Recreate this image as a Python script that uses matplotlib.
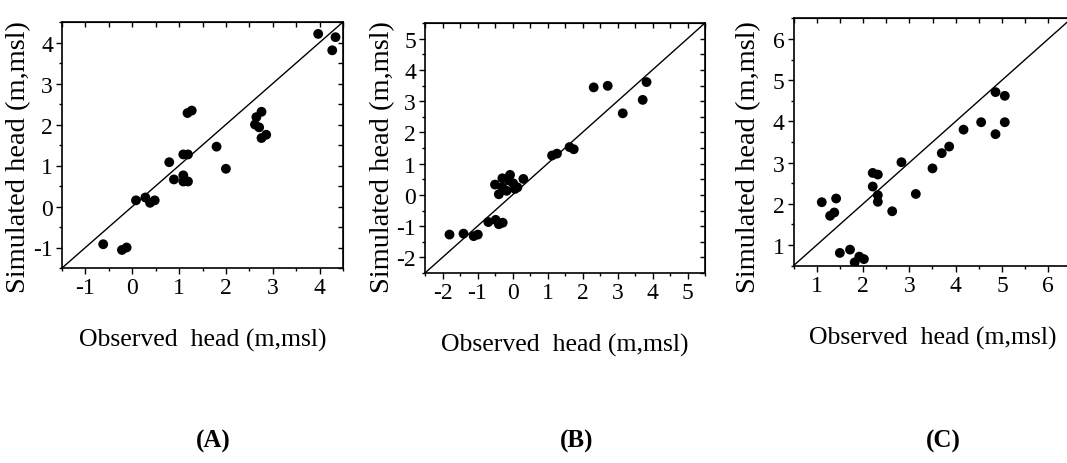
import matplotlib
matplotlib.use("Agg")
import matplotlib.pyplot as plt
from matplotlib.ticker import MultipleLocator

plt.rcParams['font.family'] = ['Liberation Serif', 'DejaVu Serif']
plt.rcParams['axes.unicode_minus'] = False

# Panel A data
obs_a = [-0.62, -0.22, -0.12, 0.08, 0.28, 0.38, 0.48, 0.79, 0.89, 1.09, 1.09, 1.19,
         1.09, 1.19, 1.18, 1.27, 1.80, 2.00, 2.62, 2.65, 2.76, 2.71, 2.76, 2.86,
         3.97, 4.34, 4.27]
sim_a = [-0.92, -1.06, -1.00, 0.15, 0.22, 0.09, 0.15, 1.08, 0.66, 0.76, 0.61, 0.61,
         1.27, 1.27, 2.28, 2.34, 1.46, 0.92, 2.00, 2.18, 2.31, 1.93, 1.67, 1.75,
         4.21, 4.13, 3.81]

# Panel B data
obs_b = [-1.80, -1.40, -1.11, -0.99, -0.69, -0.48, -0.39, -0.28, -0.50, -0.39,
         -0.29, -0.29, -0.17, -0.10, -0.07, 0.02, 0.07, 0.14, 0.31, 1.13, 1.27,
         1.63, 1.75, 2.32, 2.72, 3.15, 3.72, 3.83]
sim_b = [-1.27, -1.24, -1.32, -1.27, -0.87, -0.80, -0.94, -0.89, 0.33, 0.02,
         0.24, 0.53, 0.13, 0.46, 0.64, 0.37, 0.19, 0.24, 0.51, 1.26, 1.32,
         1.53, 1.46, 3.44, 3.49, 2.61, 3.04, 3.61]

# Panel C data
obs_c = [1.11, 1.29, 1.38, 1.42, 1.50, 1.72, 1.92, 1.82, 2.02, 2.21, 2.21, 2.32,
         2.32, 2.32, 2.63, 2.83, 3.14, 3.50, 3.70, 3.86, 4.17, 4.55, 4.86, 5.06,
         4.86, 5.06]
sim_c = [2.04, 1.71, 1.79, 2.13, 0.81, 0.89, 0.72, 0.58, 0.66, 2.75, 2.42, 2.71,
         2.21, 2.05, 1.82, 3.01, 2.24, 2.86, 3.23, 3.39, 3.80, 3.98, 4.71, 4.62,
         3.69, 3.98]

limits = [(-1.5, 4.5), (-2.5, 5.5), (0.5, 6.5)]
panel_labels = ['(A)', '(B)', '(C)']
xlabel = 'Observed  head (m,msl)'
ylabel = 'Simulated head (m,msl)'

W, H = 1067, 464
fig = plt.figure(figsize=(W / 100, H / 100), dpi=100)

# axes boxes in pixels: left, top, right, bottom
boxes = [(62, 23, 343, 269), (425, 24, 705, 274), (793.5, 19.3, 1071.5, 266.7)]
label_x = [213, 577, 943]
ylabel_right_px = [31, 395, 761]
ylabel_center_px = 157
xlabel_top_offset = 60

data = [(obs_a, sim_a), (obs_b, sim_b), (obs_c, sim_c)]

for i, ((xs, ys), (lo, hi), box) in enumerate(zip(data, limits, boxes)):
    l, t, r, b = box
    w, h = r - l, b - t
    ax = fig.add_axes([l / W, 1 - b / H, w / W, h / H])
    ax.plot([lo, hi], [lo, hi], color='black', lw=1.0, zorder=1)
    ax.scatter(xs, ys, s=50, color='black', edgecolors='none', zorder=2)
    ax.set_xlim(lo, hi)
    ax.set_ylim(lo, hi)
    ax.xaxis.set_major_locator(MultipleLocator(1))
    ax.yaxis.set_major_locator(MultipleLocator(1))
    ax.xaxis.set_minor_locator(MultipleLocator(0.5))
    ax.yaxis.set_minor_locator(MultipleLocator(0.5))
    ax.tick_params(which='both', direction='out', top=False, right=False,
                   width=1.0, labelsize=17, pad=2.5)
    ax.tick_params(which='major', length=4)
    ax.tick_params(which='minor', length=2.5)
    for sp in ax.spines.values():
        sp.set_linewidth(1.2)
    sx = ax.secondary_xaxis('top')
    sx.xaxis.set_major_locator(MultipleLocator(0.5))
    sx.tick_params(direction='in', length=3.5, width=1.0, labeltop=False)
    sy = ax.secondary_yaxis('right')
    sy.yaxis.set_major_locator(MultipleLocator(0.5))
    sy.tick_params(direction='in', length=3.5, width=1.0, labelright=False)
    ax.set_xlabel(xlabel, fontsize=18.5)
    ax.xaxis.set_label_coords(0.5, -xlabel_top_offset / h)
    ax.set_ylabel(ylabel, fontsize=20.5)
    ax.yaxis.set_label_coords((ylabel_right_px[i] - l) / w,
                              (b - ylabel_center_px) / h)
    fig.text(label_x[i] / W, 1 - 441 / H, panel_labels[i], fontsize=18,
             fontweight='bold', ha='center', va='center')

fig.savefig('out.png', dpi=100)
